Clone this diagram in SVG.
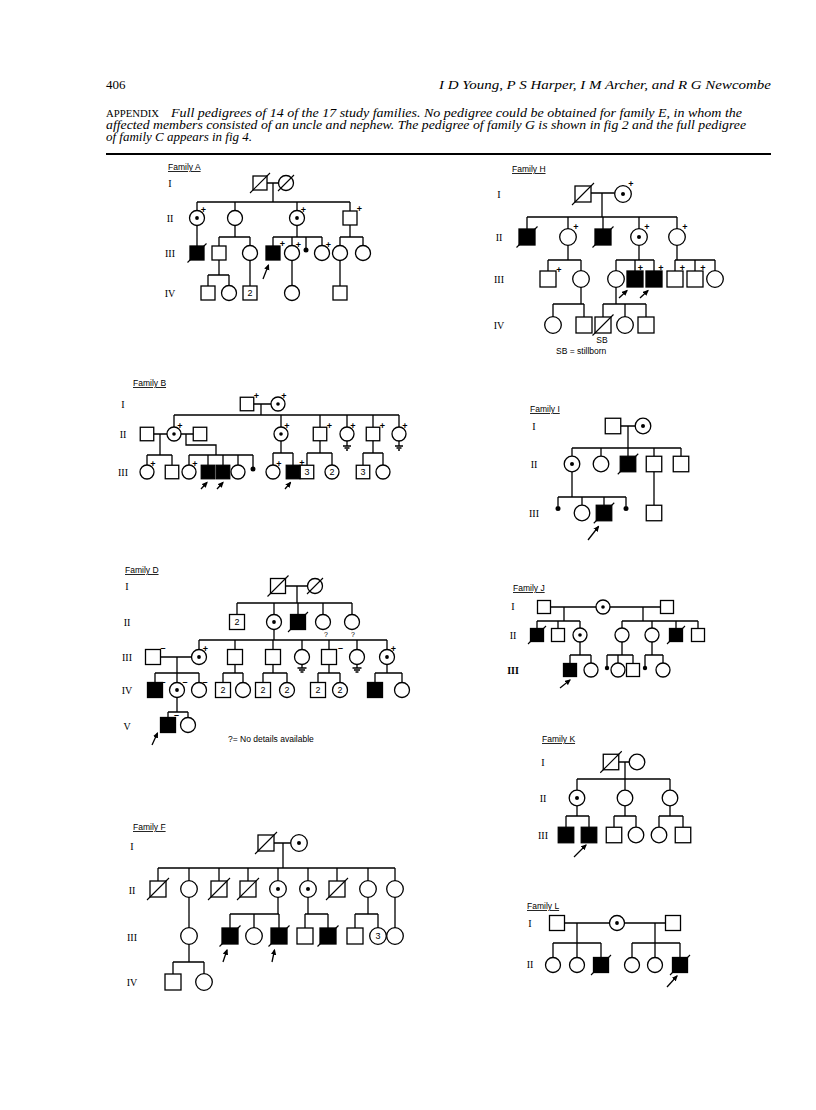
<svg xmlns="http://www.w3.org/2000/svg" width="816" height="1110" viewBox="0 0 816 1110">
<style>
.o{fill:#fff;stroke:#000;stroke-width:1.3}
.k{fill:#000;stroke:#000;stroke-width:1.3}
.c{fill:none;stroke:#000;stroke-width:1.3}
.sl{stroke:#000;stroke-width:1.1}
.d{fill:#000}
.g{font-family:"Liberation Serif",serif;font-size:10px;text-anchor:middle;fill:#000}
.fam{font-family:"Liberation Sans",sans-serif;font-size:8.5px;text-decoration:underline;fill:#000}
.p{font-family:"Liberation Sans",sans-serif;font-size:9px;font-weight:bold;text-anchor:middle;fill:#000}
.n{font-family:"Liberation Sans",sans-serif;font-size:9px;text-anchor:middle;fill:#000}
.q{font-family:"Liberation Sans",sans-serif;font-size:7px;text-anchor:middle;fill:#000}
.t{font-family:"Liberation Sans",sans-serif;font-size:8.5px;fill:#000}
.ar{stroke:#000;stroke-width:1.3;marker-end:url(#ah)}
.hd{font-family:"Liberation Serif",serif;fill:#000}
</style>
<defs>
<marker id="ah" viewBox="0 0 10 10" refX="8" refY="5" markerWidth="6" markerHeight="6" markerUnits="userSpaceOnUse" orient="auto"><path d="M0,0.5 L10,5 L0,9.5 z" fill="#000"/></marker>
</defs>
<rect width="816" height="1110" fill="#fff"/>

<g id="header">
<text class="hd" x="106" y="89" font-size="13">406</text>
<text class="hd" x="771" y="89" font-size="13.5" font-style="italic" text-anchor="end" textLength="332" lengthAdjust="spacingAndGlyphs">I D Young, P S Harper, I M Archer, and R G Newcombe</text>
<text class="hd" x="106" y="117" font-size="9.5" textLength="53" lengthAdjust="spacingAndGlyphs">APPENDIX</text>
<text class="hd" x="171" y="117" font-size="12" font-style="italic" textLength="571" lengthAdjust="spacingAndGlyphs">Full pedigrees of 14 of the 17 study families. No pedigree could be obtained for family E, in whom the</text>
<text class="hd" x="106" y="129" font-size="12" font-style="italic" textLength="640" lengthAdjust="spacingAndGlyphs">affected members consisted of an uncle and nephew. The pedigree of family G is shown in fig 2 and the full pedigree</text>
<text class="hd" x="106" y="141" font-size="12" font-style="italic" textLength="146" lengthAdjust="spacingAndGlyphs">of family C appears in fig 4.</text>
<line x1="106" y1="154" x2="771" y2="154" stroke="#000" stroke-width="2"/>
</g>

<g id="connectors">
<path id="conn-A" class="c" d="M267 183H278.5 M273 183V202 M197 202H350 M197 202V210.5 M235 202V210.5 M297 202V210.5 M350 202V211 M197 225.5V246 M235 225.5V237 M219 237H250 M219 237V246 M250 237V245.5 M297 225.5V237 M273 237H322 M273 237V246 M292 237V245.5 M306 237V248 M322 237V245.5 M350 225V237 M340 237H363 M340 237V245.5 M363 237V245.5 M219 260V275 M208 275H229 M208 275V286 M229 275V285.5 M250 260.5V286 M292 260.5V285.5 M340 260.5V286"/>
<path id="conn-B" class="c" d="M253.75 404H271 M261 404V415 M174 415H399 M174 415V427 M281 415V427 M320 415V427.25 M347 415V427 M373 415V427.25 M399 415V427 M153.75 434H167 M160 434V455 M147 455H172 M147 455V465 M172 455V465.25 M181 434H193.25 M186 434V445H216V455 M189 455H253 M189 455V465 M208 455V465.25 M223 455V465.25 M238 455V465 M253 455V467 M281 441V453 M273 453H293 M273 453V465 M293 453V465.25 M320 440.75V453 M307 453H332 M307 453V465.25 M332 453V465 M373 440.75V453 M363 453H383 M363 453V465.25 M383 453V465"/>
<path id="conn-H" class="c" d="M591 193H614.7 M602 193V217 M527 217H677 M527 217V229 M568 217V228.7 M603 217V229 M639 217V228.7 M677 217V228.7 M568 245.3V260 M548 260H581 M548 260V271 M581 260V270.7 M639 245.3V260 M616 260H654 M616 260V270.7 M635 260V271 M654 260V271 M677 245.3V260 M675 260H715 M675 260V271 M695 260V271 M715 260V270.7 M581 287.3V304 M553 304H584 M553 304V316.7 M584 304V317 M616 287.3V304 M603 304H646 M603 304V317 M625 304V316.7 M646 304V317"/>
<path id="conn-I" class="c" d="M620.75 426H635.2 M628 426V448 M572 448H681 M572 448V456.2 M601 448V456.2 M628 448V456.25 M654 448V456.25 M681 448V456.25 M572 471.8V497 M558 497H626 M558 497V506 M582 497V505.2 M604 497V505.25 M626 497V506 M654 471.75V505.25"/>
<path id="conn-D" class="c" d="M285.5 586H307.5 M297 586V603 M237 603H352 M237 603V614.5 M274 603V614.5 M298 603V614.5 M323 603V614.5 M352 603V614.5 M274 629.5V640 M199 640H387 M199 640V649.5 M235 640V649.5 M273 640V649.5 M302 640V649.5 M329 640V649.5 M357 640V649.5 M387 640V649.5 M160.5 657H191.5 M177 657V673 M155 673H199 M155 673V682.5 M177 673V682.5 M199 673V682.5 M235 664.5V673 M223 673H243 M223 673V682.5 M243 673V682.5 M273 664.5V673 M263 673H287 M263 673V682.5 M287 673V682.5 M329 664.5V673 M318 673H340 M318 673V682.5 M340 673V682.5 M387 664.5V673 M375 673H402 M375 673V682.5 M402 673V682.5 M177 697.5V712 M168 712H188 M168 712V717.5 M188 712V717.5"/>
<path id="conn-J" class="c" d="M550.5 607H596 M610 607H660.5 M564 607V621 M643 607V621 M537 621H580 M537 621V628.5 M558 621V628.5 M580 621V628 M622 621H698 M622 621V628 M652 621V628 M676 621V628.5 M698 621V628.5 M580 642V655 M570 655H591 M570 655V663.5 M591 655V663 M622 642V655 M607 655H633 M607 655V666 M618 655V663 M633 655V663.5 M652 642V655 M645 655H663 M645 655V666 M663 655V663"/>
<path id="conn-F" class="c" d="M274 843H290.7 M283 843V868 M158 868H395 M158 868V881 M189 868V880.7 M219 868V881 M248 868V881 M278 868V880.7 M308 868V880.7 M337 868V881 M368 868V880.7 M395 868V880.7 M189 897.3V927.7 M278 897.3V914 M230 914H279 M230 914V928 M254 914V927.7 M279 914V928 M308 897.3V914 M305 914H328 M305 914V928 M328 914V928 M368 897.3V914 M355 914H378 M355 914V928 M378 914V927.7 M395 897.3V927.7 M189 944.3V962 M173 962H204 M173 962V974 M204 962V973.7"/>
<path id="conn-K" class="c" d="M618.75 762H629.2 M625 762V779 M577 779H670 M577 779V790.2 M625 779V790.2 M670 779V790.2 M577 805.8V816 M566 816H589 M566 816V827.25 M589 816V827.25 M625 805.8V816 M614 816H636 M614 816V827.25 M636 816V827.2 M670 805.8V816 M659 816H683 M659 816V827.2 M683 816V827.25"/>
<path id="conn-L" class="c" d="M564.5 923H609.5 M624.5 923H665.5 M577 923V943 M655 923V943 M553 943H601 M553 943V957.5 M577 943V957.5 M601 943V957.5 M632 943H680 M632 943V957.5 M655 943V957.5 M680 943V957.5"/>
<g id="arrows">
<line class="ar" x1="263" y1="279" x2="268.5" y2="265"/>
<line class="ar" x1="201" y1="489" x2="207" y2="482.5"/>
<line class="ar" x1="217" y1="489" x2="223" y2="482.5"/>
<line class="ar" x1="285" y1="489" x2="290.5" y2="482.5"/>
<line class="ar" x1="619" y1="298" x2="627" y2="290.5"/>
<line class="ar" x1="640" y1="298" x2="648" y2="290.5"/>
<line class="ar" x1="588" y1="540" x2="598.5" y2="526.5"/>
<line class="ar" x1="152" y1="745" x2="157.5" y2="733"/>
<line class="ar" x1="560" y1="688" x2="570" y2="680"/>
<line class="ar" x1="223" y1="962" x2="227" y2="950"/>
<line class="ar" x1="272" y1="962" x2="274.5" y2="950"/>
<line class="ar" x1="574" y1="857" x2="586" y2="845"/>
<line class="ar" x1="667" y1="987" x2="677" y2="976"/>
</g>
</g>

<g id="family-A">
<text class="fam" x="168" y="170">Family A</text>
<text class="g" x="170" y="187">I</text><text class="g" x="170" y="222">II</text><text class="g" x="170" y="257">III</text><text class="g" x="170" y="297">IV</text>
<g id="A-I-1"><rect class="o" x="253" y="176" width="14" height="14"/><line class="sl" x1="250" y1="193" x2="270" y2="173"/></g>
<g id="A-I-2"><circle class="o" cx="286" cy="183" r="7.5"/><line class="sl" x1="278" y1="191" x2="294" y2="175"/></g>
<g id="A-II-1"><circle class="o" cx="197" cy="218" r="7.5"/><circle class="d" cx="197" cy="218" r="1.9"/><text class="p" x="203.5" y="212.5">+</text></g>
<g id="A-II-2"><circle class="o" cx="235" cy="218" r="7.5"/></g>
<g id="A-II-3"><circle class="o" cx="297" cy="218" r="7.5"/><circle class="d" cx="297" cy="218" r="1.9"/><text class="p" x="303.5" y="212.5">+</text></g>
<g id="A-II-4"><rect class="o" x="343" y="211" width="14" height="14"/><text class="p" x="359.5" y="212">+</text></g>
<g id="A-III-1"><rect class="k" x="190" y="246" width="14" height="14"/><line class="sl" x1="187.5" y1="262.5" x2="206.5" y2="243.5"/></g>
<g id="A-III-2"><rect class="o" x="212" y="246" width="14" height="14"/></g>
<g id="A-III-3"><circle class="o" cx="250" cy="253" r="7.5"/></g>
<g id="A-III-4"><rect class="k" x="266" y="246" width="14" height="14"/><text class="p" x="282.5" y="247">+</text></g>
<g id="A-III-5"><circle class="o" cx="292" cy="253" r="7.5"/><text class="p" x="298.5" y="247.5">+</text></g>
<g id="A-III-6"><circle class="d" cx="306" cy="250" r="2.5"/></g>
<g id="A-III-7"><circle class="o" cx="322" cy="253" r="7.5"/><text class="p" x="328.5" y="247.5">+</text></g>
<g id="A-III-8"><circle class="o" cx="340" cy="253" r="7.5"/></g>
<g id="A-III-9"><circle class="o" cx="363" cy="253" r="7.5"/></g>
<g id="A-IV-1"><rect class="o" x="201" y="286" width="14" height="14"/></g>
<g id="A-IV-2"><circle class="o" cx="229" cy="293" r="7.5"/></g>
<g id="A-IV-3"><rect class="o" x="243" y="286" width="14" height="14"/><text class="n" x="250" y="296.2">2</text></g>
<g id="A-IV-4"><circle class="o" cx="292" cy="293" r="7.5"/></g>
<g id="A-IV-5"><rect class="o" x="333" y="286" width="14" height="14"/></g>
</g>

<g id="family-H">
<text class="fam" x="512" y="172">Family H</text>
<text class="g" x="499" y="198">I</text><text class="g" x="499" y="241">II</text><text class="g" x="499" y="283">III</text><text class="g" x="499" y="329">IV</text>
<g id="H-I-1"><rect class="o" x="575" y="186" width="16" height="16"/><line class="sl" x1="572" y1="205" x2="594" y2="183"/></g>
<g id="H-I-2"><circle class="o" cx="623" cy="194" r="8.3"/><circle class="d" cx="623" cy="194" r="2"/><text class="p" x="631" y="186.5">+</text></g>
<g id="H-II-1"><rect class="k" x="519" y="229" width="16" height="16"/><line class="sl" x1="516.5" y1="247.5" x2="537.5" y2="226.5"/></g>
<g id="H-II-2"><circle class="o" cx="568" cy="237" r="8.3"/><text class="p" x="576" y="230">+</text></g>
<g id="H-II-3"><rect class="k" x="595" y="229" width="16" height="16"/><line class="sl" x1="592.5" y1="247.5" x2="613.5" y2="226.5"/></g>
<g id="H-II-4"><circle class="o" cx="639" cy="237" r="8.3"/><circle class="d" cx="639" cy="237" r="2"/><text class="p" x="647" y="230">+</text></g>
<g id="H-II-5"><circle class="o" cx="677" cy="237" r="8.3"/><text class="p" x="685" y="230">+</text></g>
<g id="H-III-1"><rect class="o" x="540" y="271" width="16" height="16"/><text class="p" x="559" y="272.5">+</text></g>
<g id="H-III-2"><circle class="o" cx="581" cy="279" r="8.3"/></g>
<g id="H-III-3"><circle class="o" cx="616" cy="279" r="8.3"/></g>
<g id="H-III-4"><rect class="k" x="627" y="271" width="16" height="16"/><text class="p" x="640.5" y="270.5">+</text></g>
<g id="H-III-5"><rect class="k" x="646" y="271" width="16" height="16"/><text class="p" x="661" y="270.5">+</text></g>
<g id="H-III-6"><rect class="o" x="667" y="271" width="16" height="16"/><text class="p" x="682.5" y="270.5">+</text></g>
<g id="H-III-7"><rect class="o" x="687" y="271" width="16" height="16"/><text class="p" x="703" y="270.5">+</text></g>
<g id="H-III-8"><circle class="o" cx="715" cy="279" r="8.3"/></g>
<g id="H-IV-1"><circle class="o" cx="553" cy="325" r="8.3"/></g>
<g id="H-IV-2"><rect class="o" x="576" y="317" width="16" height="16"/></g>
<g id="H-IV-3"><rect class="o" x="595" y="317" width="16" height="16"/><line class="sl" x1="592.5" y1="335.5" x2="613.5" y2="314.5"/><text class="t" x="602" y="342.5" text-anchor="middle">SB</text></g>
<g id="H-IV-4"><circle class="o" cx="625" cy="325" r="8.3"/></g>
<g id="H-IV-5"><rect class="o" x="638" y="317" width="16" height="16"/></g>
<text class="t" x="556" y="353.5">SB = stillborn</text>
</g>

<g id="family-B">
<text class="fam" x="133" y="386">Family B</text>
<text class="g" x="123" y="408">I</text><text class="g" x="123" y="438">II</text><text class="g" x="123" y="476">III</text>
<g id="B-I-1"><rect class="o" x="240.25" y="397.25" width="13.5" height="13.5"/><text class="p" x="256.5" y="398.5">+</text></g>
<g id="B-I-2"><circle class="o" cx="278" cy="404" r="7"/><circle class="d" cx="278" cy="404" r="1.8"/><text class="p" x="284" y="399">+</text></g>
<g id="B-II-1"><rect class="o" x="140.25" y="427.25" width="13.5" height="13.5"/></g>
<g id="B-II-2"><circle class="o" cx="174" cy="434" r="7"/><circle class="d" cx="174" cy="434" r="1.8"/><text class="p" x="180" y="429">+</text></g>
<g id="B-II-3"><rect class="o" x="193.25" y="427.25" width="13.5" height="13.5"/></g>
<g id="B-II-4"><circle class="o" cx="281" cy="434" r="7"/><circle class="d" cx="281" cy="434" r="1.8"/><text class="p" x="287" y="429">+</text></g>
<g id="B-II-5"><rect class="o" x="313.25" y="427.25" width="13.5" height="13.5"/><text class="p" x="329.5" y="428.5">+</text></g>
<g id="B-II-6"><circle class="o" cx="347" cy="434" r="7"/><text class="p" x="353" y="429">+</text><path class="c" d="M347 441V446 M343 446H351 M344.5 448H349.5 M346 450H348"/></g>
<g id="B-II-7"><rect class="o" x="366.25" y="427.25" width="13.5" height="13.5"/><text class="p" x="382.5" y="428.5">+</text></g>
<g id="B-II-8"><circle class="o" cx="399" cy="434" r="7"/><text class="p" x="405" y="429">+</text><path class="c" d="M399 441V446 M395 446H403 M396.5 448H401.5 M398 450H400"/></g>
<g id="B-III-1"><circle class="o" cx="147" cy="472" r="7"/><text class="p" x="153" y="467">+</text></g>
<g id="B-III-2"><rect class="o" x="165.25" y="465.25" width="13.5" height="13.5"/></g>
<g id="B-III-3"><circle class="o" cx="189" cy="472" r="7"/><text class="p" x="195" y="467">+</text></g>
<g id="B-III-4"><rect class="k" x="201.25" y="465.25" width="13.5" height="13.5"/></g>
<g id="B-III-5"><rect class="k" x="216.25" y="465.25" width="13.5" height="13.5"/></g>
<g id="B-III-6"><circle class="o" cx="238" cy="472" r="7"/></g>
<g id="B-III-7"><circle class="d" cx="253" cy="469" r="2.5"/></g>
<g id="B-III-8"><circle class="o" cx="273" cy="472" r="7"/><text class="p" x="279" y="467">+</text></g>
<g id="B-III-9"><rect class="k" x="286.25" y="465.25" width="13.5" height="13.5"/><text class="p" x="302" y="466">+</text></g>
<g id="B-III-10"><rect class="o" x="300.25" y="465.25" width="13.5" height="13.5"/><text class="n" x="307" y="475.2">3</text></g>
<g id="B-III-11"><circle class="o" cx="332" cy="472" r="7"/><text class="n" x="332" y="475.2">2</text></g>
<g id="B-III-12"><rect class="o" x="356.25" y="465.25" width="13.5" height="13.5"/><text class="n" x="363" y="475.2">3</text></g>
<g id="B-III-13"><circle class="o" cx="383" cy="472" r="7"/></g>
</g>

<g id="family-I">
<text class="fam" x="530" y="412">Family I</text>
<text class="g" x="534" y="430">I</text><text class="g" x="534" y="468">II</text><text class="g" x="534" y="517">III</text>
<g id="I-I-1"><rect class="o" x="605.25" y="418.25" width="15.5" height="15.5"/></g>
<g id="I-I-2"><circle class="o" cx="643" cy="426" r="7.8"/><circle class="d" cx="643" cy="426" r="2"/></g>
<g id="I-II-1"><circle class="o" cx="572" cy="464" r="7.8"/><circle class="d" cx="572" cy="464" r="2"/></g>
<g id="I-II-2"><circle class="o" cx="601" cy="464" r="7.8"/></g>
<g id="I-II-3"><rect class="k" x="620.25" y="456.25" width="15.5" height="15.5"/><line class="sl" x1="617.75" y1="474.25" x2="638.25" y2="453.75"/></g>
<g id="I-II-4"><rect class="o" x="646.25" y="456.25" width="15.5" height="15.5"/></g>
<g id="I-II-5"><rect class="o" x="673.25" y="456.25" width="15.5" height="15.5"/></g>
<g id="I-III-1"><circle class="d" cx="558" cy="508.5" r="2.5"/></g>
<g id="I-III-2"><circle class="o" cx="582" cy="513" r="7.8"/></g>
<g id="I-III-3"><rect class="k" x="596.25" y="505.25" width="15.5" height="15.5"/><line class="sl" x1="593.75" y1="523.25" x2="614.25" y2="502.75"/></g>
<g id="I-III-4"><circle class="d" cx="626" cy="508.5" r="2.5"/></g>
<g id="I-III-5"><rect class="o" x="646.25" y="505.25" width="15.5" height="15.5"/></g>
</g>

<g id="family-D">
<text class="fam" x="125" y="573">Family D</text>
<text class="g" x="127" y="590">I</text><text class="g" x="127" y="626">II</text><text class="g" x="127" y="661">III</text><text class="g" x="127" y="694">IV</text><text class="g" x="127" y="730">V</text>
<g id="D-I-1"><rect class="o" x="270.5" y="578.5" width="15" height="15"/><line class="sl" x1="267.5" y1="596.5" x2="288.5" y2="575.5"/></g>
<g id="D-I-2"><circle class="o" cx="315" cy="586" r="7.5"/><line class="sl" x1="307" y1="594" x2="323" y2="578"/></g>
<g id="D-II-1"><rect class="o" x="229.5" y="614.5" width="15" height="15"/><text class="n" x="237" y="625.2">2</text></g>
<g id="D-II-2"><circle class="o" cx="274" cy="622" r="7.5"/><circle class="d" cx="274" cy="622" r="1.9"/></g>
<g id="D-II-3"><rect class="k" x="290.5" y="614.5" width="15" height="15"/><line class="sl" x1="288" y1="632" x2="308" y2="612"/></g>
<g id="D-II-4"><circle class="o" cx="323" cy="622" r="7.5"/><text class="q" x="326" y="637">?</text></g>
<g id="D-II-5"><circle class="o" cx="352" cy="622" r="7.5"/><text class="q" x="353" y="637">?</text></g>
<g id="D-III-1"><rect class="o" x="145.5" y="649.5" width="15" height="15"/><text class="p" x="163" y="651">–</text></g>
<g id="D-III-2"><circle class="o" cx="199" cy="657" r="7.5"/><circle class="d" cx="199" cy="657" r="1.9"/><text class="p" x="205.5" y="651.5">+</text></g>
<g id="D-III-3"><rect class="o" x="227.5" y="649.5" width="15" height="15"/></g>
<g id="D-III-4"><rect class="o" x="265.5" y="649.5" width="15" height="15"/></g>
<g id="D-III-5"><circle class="o" cx="302" cy="657" r="7.5"/><path class="c" d="M302 664.5V668 M297.5 668H306.5 M299 670H305 M300.5 672H303.5"/></g>
<g id="D-III-6"><rect class="o" x="321.5" y="649.5" width="15" height="15"/><text class="p" x="340.5" y="651">–</text></g>
<g id="D-III-7"><circle class="o" cx="357" cy="657" r="7.5"/><path class="c" d="M357 664.5V668 M352.5 668H361.5 M354 670H360 M355.5 672H358.5"/></g>
<g id="D-III-8"><circle class="o" cx="387" cy="657" r="7.5"/><circle class="d" cx="387" cy="657" r="1.9"/><text class="p" x="393.5" y="651.5">+</text></g>
<g id="D-IV-1"><rect class="k" x="147.5" y="682.5" width="15" height="15"/><text class="p" x="163" y="684.5">–</text></g>
<g id="D-IV-2"><circle class="o" cx="177" cy="690" r="7.5"/><circle class="d" cx="177" cy="690" r="1.9"/><text class="p" x="185" y="684.5">–</text></g>
<g id="D-IV-3"><circle class="o" cx="199" cy="690" r="7.5"/><text class="p" x="205" y="684.5">–</text></g>
<g id="D-IV-4"><rect class="o" x="215.5" y="682.5" width="15" height="15"/><text class="n" x="223" y="693.2">2</text></g>
<g id="D-IV-5"><circle class="o" cx="243" cy="690" r="7.5"/></g>
<g id="D-IV-6"><rect class="o" x="255.5" y="682.5" width="15" height="15"/><text class="n" x="263" y="693.2">2</text></g>
<g id="D-IV-7"><circle class="o" cx="287" cy="690" r="7.5"/><text class="n" x="287" y="693.2">2</text></g>
<g id="D-IV-8"><rect class="o" x="310.5" y="682.5" width="15" height="15"/><text class="n" x="318" y="693.2">2</text></g>
<g id="D-IV-9"><circle class="o" cx="340" cy="690" r="7.5"/><text class="n" x="340" y="693.2">2</text></g>
<g id="D-IV-10"><rect class="k" x="367.5" y="682.5" width="15" height="15"/></g>
<g id="D-IV-11"><circle class="o" cx="402" cy="690" r="7.5"/></g>
<g id="D-V-1"><rect class="k" x="160.5" y="717.5" width="15" height="15"/><text class="p" x="176.5" y="718">–</text></g>
<g id="D-V-2"><circle class="o" cx="188" cy="725" r="7.5"/></g>
<text class="t" x="228" y="741.5">?= No details available</text>
</g>

<g id="family-J">
<text class="fam" x="513" y="591">Family J</text>
<text class="g" x="513" y="610">I</text><text class="g" x="513" y="639">II</text><text class="g" x="513" y="674" font-weight="bold">III</text>
<g id="J-I-1"><rect class="o" x="537.5" y="600.5" width="13" height="13"/></g>
<g id="J-I-2"><circle class="o" cx="603" cy="607" r="7"/><circle class="d" cx="603" cy="607" r="1.8"/></g>
<g id="J-I-3"><rect class="o" x="660.5" y="600.5" width="13" height="13"/></g>
<g id="J-II-1"><rect class="k" x="530.5" y="628.5" width="13" height="13"/><line class="sl" x1="528" y1="644" x2="546" y2="626"/></g>
<g id="J-II-2"><rect class="o" x="551.5" y="628.5" width="13" height="13"/></g>
<g id="J-II-3"><circle class="o" cx="580" cy="635" r="7"/><circle class="d" cx="580" cy="635" r="1.8"/></g>
<g id="J-II-4"><circle class="o" cx="622" cy="635" r="7"/></g>
<g id="J-II-5"><circle class="o" cx="652" cy="635" r="7"/></g>
<g id="J-II-6"><rect class="k" x="669.5" y="628.5" width="13" height="13"/><line class="sl" x1="667" y1="644" x2="685" y2="626"/></g>
<g id="J-II-7"><rect class="o" x="691.5" y="628.5" width="13" height="13"/></g>
<g id="J-III-1"><rect class="k" x="563.5" y="663.5" width="13" height="13"/></g>
<g id="J-III-2"><circle class="o" cx="591" cy="670" r="7"/></g>
<g id="J-III-3"><circle class="d" cx="607" cy="668" r="2.2"/></g>
<g id="J-III-4"><circle class="o" cx="618" cy="670" r="7"/></g>
<g id="J-III-5"><rect class="o" x="626.5" y="663.5" width="13" height="13"/></g>
<g id="J-III-6"><circle class="d" cx="645" cy="668" r="2.2"/></g>
<g id="J-III-7"><circle class="o" cx="663" cy="670" r="7"/></g>
</g>

<g id="family-F">
<text class="fam" x="133" y="830">Family F</text>
<text class="g" x="132" y="850">I</text><text class="g" x="132" y="894">II</text><text class="g" x="132" y="941">III</text><text class="g" x="132" y="986">IV</text>
<g id="F-I-1"><rect class="o" x="258" y="835" width="16" height="16"/><line class="sl" x1="255" y1="854" x2="277" y2="832"/></g>
<g id="F-I-2"><circle class="o" cx="299" cy="843" r="8.3"/><circle class="d" cx="299" cy="843" r="2"/></g>
<g id="F-II-1"><rect class="o" x="150" y="881" width="16" height="16"/><line class="sl" x1="147" y1="900" x2="169" y2="878"/></g>
<g id="F-II-2"><circle class="o" cx="189" cy="889" r="8.3"/></g>
<g id="F-II-3"><rect class="o" x="211" y="881" width="16" height="16"/><line class="sl" x1="208" y1="900" x2="230" y2="878"/></g>
<g id="F-II-4"><rect class="o" x="240" y="881" width="16" height="16"/><line class="sl" x1="237" y1="900" x2="259" y2="878"/></g>
<g id="F-II-5"><circle class="o" cx="278" cy="889" r="8.3"/><circle class="d" cx="278" cy="889" r="2"/></g>
<g id="F-II-6"><circle class="o" cx="308" cy="889" r="8.3"/><circle class="d" cx="308" cy="889" r="2"/></g>
<g id="F-II-7"><rect class="o" x="329" y="881" width="16" height="16"/><line class="sl" x1="326" y1="900" x2="348" y2="878"/></g>
<g id="F-II-8"><circle class="o" cx="368" cy="889" r="8.3"/></g>
<g id="F-II-9"><circle class="o" cx="395" cy="889" r="8.3"/></g>
<g id="F-III-1"><circle class="o" cx="189" cy="936" r="8.3"/></g>
<g id="F-III-2"><rect class="k" x="222" y="928" width="16" height="16"/><line class="sl" x1="219.5" y1="946.5" x2="240.5" y2="925.5"/></g>
<g id="F-III-3"><circle class="o" cx="254" cy="936" r="8.3"/></g>
<g id="F-III-4"><rect class="k" x="271" y="928" width="16" height="16"/><line class="sl" x1="268.5" y1="946.5" x2="289.5" y2="925.5"/></g>
<g id="F-III-5"><rect class="o" x="297" y="928" width="16" height="16"/></g>
<g id="F-III-6"><rect class="k" x="320" y="928" width="16" height="16"/><line class="sl" x1="317.5" y1="946.5" x2="338.5" y2="925.5"/></g>
<g id="F-III-7"><rect class="o" x="347" y="928" width="16" height="16"/></g>
<g id="F-III-8"><circle class="o" cx="378" cy="936" r="8.3"/><text class="n" x="378" y="939.3">3</text></g>
<g id="F-III-9"><circle class="o" cx="395" cy="936" r="8.3"/></g>
<g id="F-IV-1"><rect class="o" x="165" y="974" width="16" height="16"/></g>
<g id="F-IV-2"><circle class="o" cx="204" cy="982" r="8.3"/></g>
</g>

<g id="family-K">
<text class="fam" x="542" y="742">Family K</text>
<text class="g" x="543" y="766">I</text><text class="g" x="543" y="802">II</text><text class="g" x="543" y="839">III</text>
<g id="K-I-1"><rect class="o" x="603.25" y="754.25" width="15.5" height="15.5"/><line class="sl" x1="600.25" y1="772.75" x2="621.75" y2="751.25"/></g>
<g id="K-I-2"><circle class="o" cx="637" cy="762" r="7.8"/></g>
<g id="K-II-1"><circle class="o" cx="577" cy="798" r="7.8"/><circle class="d" cx="577" cy="798" r="2"/></g>
<g id="K-II-2"><circle class="o" cx="625" cy="798" r="7.8"/></g>
<g id="K-II-3"><circle class="o" cx="670" cy="798" r="7.8"/></g>
<g id="K-III-1"><rect class="k" x="558.25" y="827.25" width="15.5" height="15.5"/></g>
<g id="K-III-2"><rect class="k" x="581.25" y="827.25" width="15.5" height="15.5"/></g>
<g id="K-III-3"><rect class="o" x="606.25" y="827.25" width="15.5" height="15.5"/></g>
<g id="K-III-4"><circle class="o" cx="636" cy="835" r="7.8"/></g>
<g id="K-III-5"><circle class="o" cx="659" cy="835" r="7.8"/></g>
<g id="K-III-6"><rect class="o" x="675.25" y="827.25" width="15.5" height="15.5"/></g>
</g>

<g id="family-L">
<text class="fam" x="527" y="909">Family L</text>
<text class="g" x="530" y="927">I</text><text class="g" x="530" y="968">II</text>
<g id="L-I-1"><rect class="o" x="549.5" y="915.5" width="15" height="15"/></g>
<g id="L-I-2"><circle class="o" cx="617" cy="923" r="7.5"/><circle class="d" cx="617" cy="923" r="1.9"/></g>
<g id="L-I-3"><rect class="o" x="665.5" y="915.5" width="15" height="15"/></g>
<g id="L-II-1"><circle class="o" cx="553" cy="965" r="7.5"/></g>
<g id="L-II-2"><circle class="o" cx="577" cy="965" r="7.5"/></g>
<g id="L-II-3"><rect class="k" x="593.5" y="957.5" width="15" height="15"/><line class="sl" x1="591" y1="975" x2="611" y2="955"/></g>
<g id="L-II-4"><circle class="o" cx="632" cy="965" r="7.5"/></g>
<g id="L-II-5"><circle class="o" cx="655" cy="965" r="7.5"/></g>
<g id="L-II-6"><rect class="k" x="672.5" y="957.5" width="15" height="15"/><line class="sl" x1="670" y1="975" x2="690" y2="955"/></g>
</g>
</svg>
